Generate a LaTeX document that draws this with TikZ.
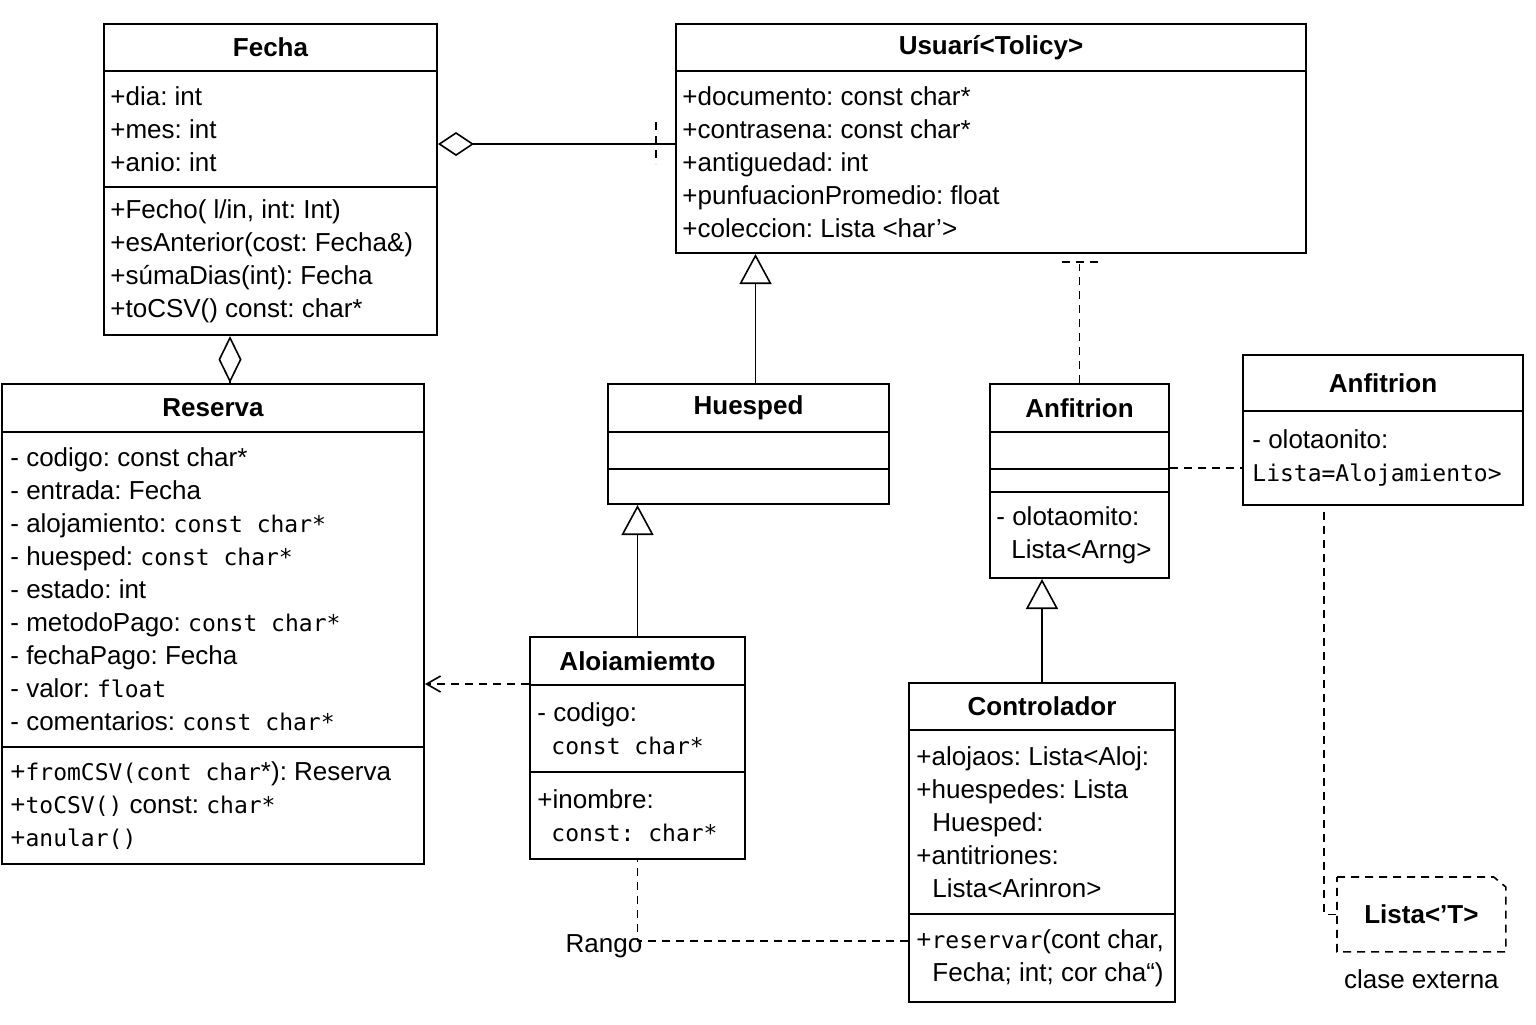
\documentclass[tikz,border=0pt]{standalone}
\usepackage{fontspec}
\setmainfont{Liberation Sans}
\newfontfamily\monofam{DejaVu Sans Mono}
\usepackage{tikz}
\usetikzlibrary{arrows.meta,calc,positioning}
\newcommand{\codetxt}[1]{{\monofam\fontsize{11.5}{16.5}\selectfont #1}}
\frenchspacing

\begin{document}
\begin{tikzpicture}[x=0.5pt,y=0.5pt,yscale=-1,xscale=1,
  box/.style={draw, line width=1pt, anchor=north west, inner sep=0pt, font=\fontsize{13}{16.5}\selectfont\bfseries},
  members/.style={anchor=west, align=left, inner sep=0pt, font=\fontsize{13}{16.5}\selectfont},
  agg/.style 2 args={line width=0.8pt, -{Diamond[open, length=#1, width=#2]}},
  gen/.style={line width=0.8pt, -{Triangle[open, length=15pt, width=16pt]}},
  dep/.style={line width=0.8pt, dash pattern=on 4pt off 3pt, -{Straight Barb[length=7pt, width=8pt]}},
  link/.style={line width=0.8pt, dash pattern=on 4pt off 3pt}]
\useasboundingbox (0,0) rectangle (1536,1024);
%Shape: Class Fecha
\node[box, minimum width=166.5pt, minimum height=23.5pt] (fecha) at (103,23) {Fecha};
\node[box, minimum width=166.5pt, minimum height=58pt] (fecha-attr) at (103,70) {};
\node[box, minimum width=166.5pt, minimum height=74pt] (fecha-ops) at (103,186) {};
% Text Node
\node[members] (fecha-attr-t) at ($(fecha-attr.west)+(7,0)$) {+dia: int\\+mes: int\\+anio: int};
\node[members] (fecha-ops-t) at ($(fecha-ops.west)+(7,0)$) {+Fecho( l/in, int: Int)\\+esAnterior(cost: Fecha\&)\\+súmaDias(int): Fecha\\+toCSV() const: char*};
%Shape: Class Usuario
\node[box, minimum width=315pt, minimum height=23.5pt] (usu) at (675,23) {Usuarí<Tolicy>};
\node[box, minimum width=315pt, minimum height=91pt] (usu-attr) at (675,70) {};
% Text Node
\node[members] (usu-attr-t) at ($(usu-attr.west)+(7,0)$) {+documento: const char*\\+contrasena: const char*\\+antiguedad: int\\+punfuacionPromedio: float\\+coleccion: Lista <har'>};
%Shape: Class Reserva
\node[box, minimum width=211pt, minimum height=24pt] (res) at (1,383) {Reserva};
\node[box, minimum width=211pt, minimum height=157.5pt] (res-attr) at (1,431) {};
\node[box, minimum width=211pt, minimum height=58.5pt] (res-ops) at (1,746) {};
% Text Node
\node[members] (res-attr-t) at ($(res-attr.west)+(9,0)$) {- codigo: const char*\\- entrada: Fecha\\- alojamiento: \codetxt{const char*}\\- huesped: \codetxt{const char*}\\- estado: int\\- metodoPago: \codetxt{const char*}\\- fechaPago: Fecha\\- valor: \codetxt{float}\\- comentarios: \codetxt{const char*}};
\node[members] (res-ops-t) at ($(res-ops.west)+(9,0)$) {+\codetxt{fromCSV(cont char}*): Reserva\\+\codetxt{toCSV()} const: \codetxt{char*}\\+\codetxt{anular()}};
%Shape: Class Huesped
\node[box, minimum width=140.5pt, minimum height=24pt] (hues) at (607,383) {Huesped};
\node[box, minimum width=140.5pt, minimum height=18.5pt] (hues-c2) at (607,431) {};
\node[box, minimum width=140.5pt, minimum height=17.5pt] (hues-c3) at (607,468) {};
%Shape: Class Anfitrion
\node[box, minimum width=89.5pt, minimum height=24pt] (anf) at (989,383) {Anfitrion};
\node[box, minimum width=89.5pt, minimum height=18.5pt] (anf-c2) at (989,431) {};
\node[box, minimum width=89.5pt, minimum height=11.5pt] (anf-c3) at (989,468) {};
\node[box, minimum width=89.5pt, minimum height=43pt] (anf-c4) at (989,491) {};
% Text Node
\node[members] (anf-c4-t) at ($(anf-c4.west)+(7,0)$) {- olotaomito:\\\hspace*{7.5pt}Lista<Arng>};
%Shape: Class Anfitrion (derecha)
\node[box, minimum width=140pt, minimum height=28pt] (anfr) at (1242,354) {Anfitrion};
\node[box, minimum width=140pt, minimum height=47pt] (anfr-attr) at (1242,410) {};
% Text Node
\node[members] (anfr-attr-t) at ($(anfr-attr.west)+(10,0)$) {- olotaonito:\\\codetxt{Lista=Alojamiento>}};
%Shape: Class Aloiamiemto
\node[box, minimum width=107.5pt, minimum height=24pt] (aloj) at (529,636) {Aloiamiemto};
\node[box, minimum width=107.5pt, minimum height=43.5pt] (aloj-attr) at (529,684) {};
\node[box, minimum width=107.5pt, minimum height=43.5pt] (aloj-ops) at (529,771) {};
% Text Node
\node[members] (aloj-attr-t) at ($(aloj-attr.west)+(8,0)$) {- codigo:\\\hspace*{7pt}\codetxt{const char*}};
\node[members] (aloj-ops-t) at ($(aloj-ops.west)+(8,0)$) {+inombre:\\\hspace*{7pt}\codetxt{const: char*}};
%Shape: Class Controlador
\node[box, minimum width=133pt, minimum height=23.5pt] (ctrl) at (908,682) {Controlador};
\node[box, minimum width=133pt, minimum height=92pt] (ctrl-attr) at (908,729) {};
\node[box, minimum width=133pt, minimum height=44pt] (ctrl-ops) at (908,913) {};
% Text Node
\node[members] (ctrl-attr-t) at ($(ctrl-attr.west)+(8,0)$) {+alojaos: Lista<Aloj:\\+huespedes: Lista\\\hspace*{8pt}Huesped:\\+antitriones:\\\hspace*{8pt}Lista<Arinron>};
\node[members] (ctrl-ops-t) at ($(ctrl-ops.west)+(8,0)$) {+\codetxt{reservar}(cont char,\\\hspace*{8pt}Fecha; int; cor cha“)};
%Shape: Lista externa
\node[inner sep=0pt, minimum width=84pt, minimum height=37pt, anchor=north west, font=\fontsize{13}{16.5}\selectfont\bfseries] (lista) at (1337,877) {Lista<'T>};
\draw[link] (lista.north west) -- ($(lista.north east)+(-12,0)$) -- ($(lista.north east)+(0,10)$) -- (lista.south east) -- (lista.south west) -- cycle;
% Text Node
\node[font=\fontsize{13}{16.5}\selectfont, inner sep=0pt, below=8.5pt of lista] (lista-note) {clase externa};
\node[font=\fontsize{13}{16.5}\selectfont, inner sep=0pt] (rango) at (604,946) {Rango};
%Straight Lines
\draw[agg={18pt}{12pt}] ($(usu-attr.west)+(0,-18)$) -- ($(usu-attr.west -| fecha-attr.east)+(0,-18)$);
\draw[link] ($(usu-attr.west)+(-19,-40)$) -- ++(0,42);
\coordinate (aggbot) at ($(res.north)+(17,0)$);
\draw[agg={23.5pt}{11.5pt}] (aggbot) -- (aggbot |- fecha-ops.south);
\coordinate (genusu) at ($(hues.north)+(7,0)$);
\draw[gen] (genusu) -- (genusu |- usu-attr.south);
\draw[gen] (aloj.north) -- (aloj.north |- hues-c3.south);
\draw[gen] (ctrl.north) -- (ctrl.north |- anf-c4.south);
\draw[link] (anf.north) -- ($(anf.north |- usu-attr.south)+(0,10)$);
\draw[link] ($(anf.north |- usu-attr.south)+(-18,8)$) -- ++(36,0);
\draw[link] (anf-c3.north east) -- (anf-c3.north east -| anfr-attr.west);
\draw[link] ($(anfr-attr.south)+(-59,6)$) |- (lista.west);
\draw[dep] (aloj-attr.north west) -- (aloj-attr.north west -| res-attr.east);
\draw[link] ($(ctrl-ops.west)+(0,-17)$) -| (aloj-ops.south);
\end{tikzpicture}
\end{document}
